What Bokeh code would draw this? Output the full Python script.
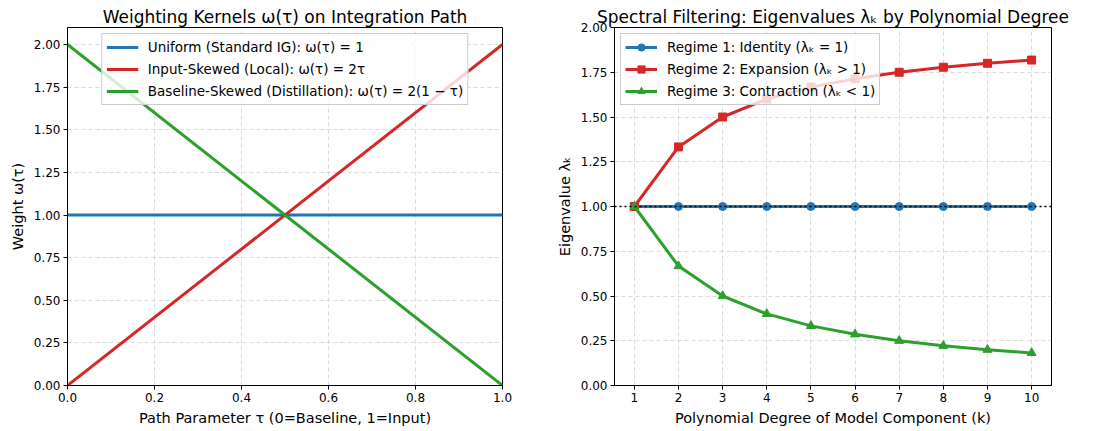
from bokeh.plotting import figure
from bokeh.layouts import row
from bokeh.models import Span, Range1d, FixedTicker, NumeralTickFormatter
from bokeh.embed import file_html
from bokeh.resources import INLINE

# ---- data ----
tau = [0.0, 1.0]
w_uniform = [1.0, 1.0]
w_input = [0.0, 2.0]
w_baseline = [2.0, 0.0]

k = [1, 2, 3, 4, 5, 6, 7, 8, 9, 10]
regime1 = [1.0, 1.0, 1.0, 1.0, 1.0, 1.0, 1.0, 1.0, 1.0, 1.0]
regime2 = [1.0, 1.333, 1.5, 1.6, 1.667, 1.714, 1.75, 1.778, 1.8, 1.818]
regime3 = [1.0, 0.667, 0.5, 0.4, 0.333, 0.286, 0.25, 0.222, 0.2, 0.182]

left_xticks = [0.0, 0.2, 0.4, 0.6, 0.8, 1.0]
yticks = [0.0, 0.25, 0.5, 0.75, 1.0, 1.25, 1.5, 1.75, 2.0]

BLUE = "#1f77b4"
RED = "#d62728"
GREEN = "#2ca02c"
FONT = "DejaVu Sans"


def style(p):
    p.title.text_font = FONT
    p.title.text_font_size = "17px"
    p.title.text_font_style = "normal"
    p.title.align = "center"
    p.title.text_color = "black"
    p.title.standoff = 2
    p.title.offset = 0
    p.outline_line_color = "black"
    p.outline_line_width = 1
    p.outline_line_alpha = 1
    for ax in (p.xaxis[0], p.yaxis[0]):
        ax.axis_label_text_font = FONT
        ax.axis_label_text_font_size = "14.5px"
        ax.axis_label_text_font_style = "normal"
        ax.axis_label_text_color = "black"
        ax.major_label_text_font = FONT
        ax.major_label_text_font_size = "12px"
        ax.major_label_text_color = "black"
        ax.minor_tick_line_color = None
        ax.major_tick_in = 0
        ax.major_tick_out = 4
        ax.axis_line_color = "black"
        ax.major_tick_line_color = "black"
        ax.axis_label_standoff = 5
        ax.major_label_standoff = 3
    for g in (p.xgrid[0], p.ygrid[0]):
        g.grid_line_color = "#b0b0b0"
        g.grid_line_alpha = 0.6
        g.grid_line_dash = "4 3"
        g.grid_line_width = 0.8
    p.background_fill_color = "white"
    p.border_fill_color = "white"


def style_legend(p, loc):
    lg = p.legend[0]
    lg.location = loc
    lg.label_text_font = FONT
    lg.label_text_font_size = "13.5px"
    lg.label_text_color = "black"
    lg.border_line_color = "#cccccc"
    lg.border_line_alpha = 1
    lg.background_fill_alpha = 0.8
    lg.glyph_width = 32
    lg.glyph_height = 18
    lg.spacing = 4
    lg.padding = 4
    lg.margin = 6
    lg.label_standoff = 10
    lg.label_height = 18


# ---- left figure ----
p1 = figure(width=553, height=428, output_backend="svg", toolbar_location=None,
            title="Weighting Kernels ω(τ) on Integration Path",
            x_range=Range1d(0, 1), y_range=Range1d(0, 2.1),
            min_border_left=67, min_border_right=51, min_border_top=27, min_border_bottom=43)
p1.line(tau, w_uniform, color=BLUE, line_width=3, legend_label="Uniform (Standard IG): ω(τ) = 1")
p1.line(tau, w_input, color=RED, line_width=3, legend_label="Input-Skewed (Local): ω(τ) = 2τ")
p1.line(tau, w_baseline, color=GREEN, line_width=3,
        legend_label="Baseline-Skewed (Distillation): ω(τ) = 2(1 − τ)")
p1.xaxis.axis_label = "Path Parameter τ (0=Baseline, 1=Input)"
p1.yaxis.axis_label = "Weight ω(τ)"
p1.xaxis.ticker = FixedTicker(ticks=left_xticks)
p1.yaxis.ticker = FixedTicker(ticks=yticks)
p1.xaxis.formatter = NumeralTickFormatter(format="0.0")
p1.yaxis.formatter = NumeralTickFormatter(format="0.00")
style(p1)
style_legend(p1, "top_center")

# ---- right figure ----
p2 = figure(width=539, height=428, output_backend="svg", toolbar_location=None,
            title="Spectral Filtering: Eigenvalues λₖ by Polynomial Degree",
            x_range=Range1d(0.55, 10.45), y_range=Range1d(0, 2.0),
            min_border_left=58, min_border_right=41, min_border_top=27, min_border_bottom=43)
p2.add_layout(Span(location=1.0, dimension="width", line_color="black",
                   line_width=1.5, line_dash="2 3"))
p2.line(k, regime1, color=BLUE, line_width=3, legend_label="Regime 1: Identity (λₖ = 1)")
p2.scatter(k, regime1, marker="circle", size=8, color=BLUE, legend_label="Regime 1: Identity (λₖ = 1)")
p2.line(k, regime2, color=RED, line_width=3, legend_label="Regime 2: Expansion (λₖ > 1)")
p2.scatter(k, regime2, marker="square", size=8, color=RED, legend_label="Regime 2: Expansion (λₖ > 1)")
p2.line(k, regime3, color=GREEN, line_width=3, legend_label="Regime 3: Contraction (λₖ < 1)")
p2.scatter(k, regime3, marker="triangle", size=9, color=GREEN, legend_label="Regime 3: Contraction (λₖ < 1)")
p2.xaxis.axis_label = "Polynomial Degree of Model Component (k)"
p2.yaxis.axis_label = "Eigenvalue λₖ"
p2.xaxis.ticker = FixedTicker(ticks=k)
p2.yaxis.ticker = FixedTicker(ticks=yticks)
p2.yaxis.formatter = NumeralTickFormatter(format="0.00")
style(p2)
style_legend(p2, "top_left")

layout = row(p1, p2)
open("out.html", "w").write(file_html(layout, INLINE))
